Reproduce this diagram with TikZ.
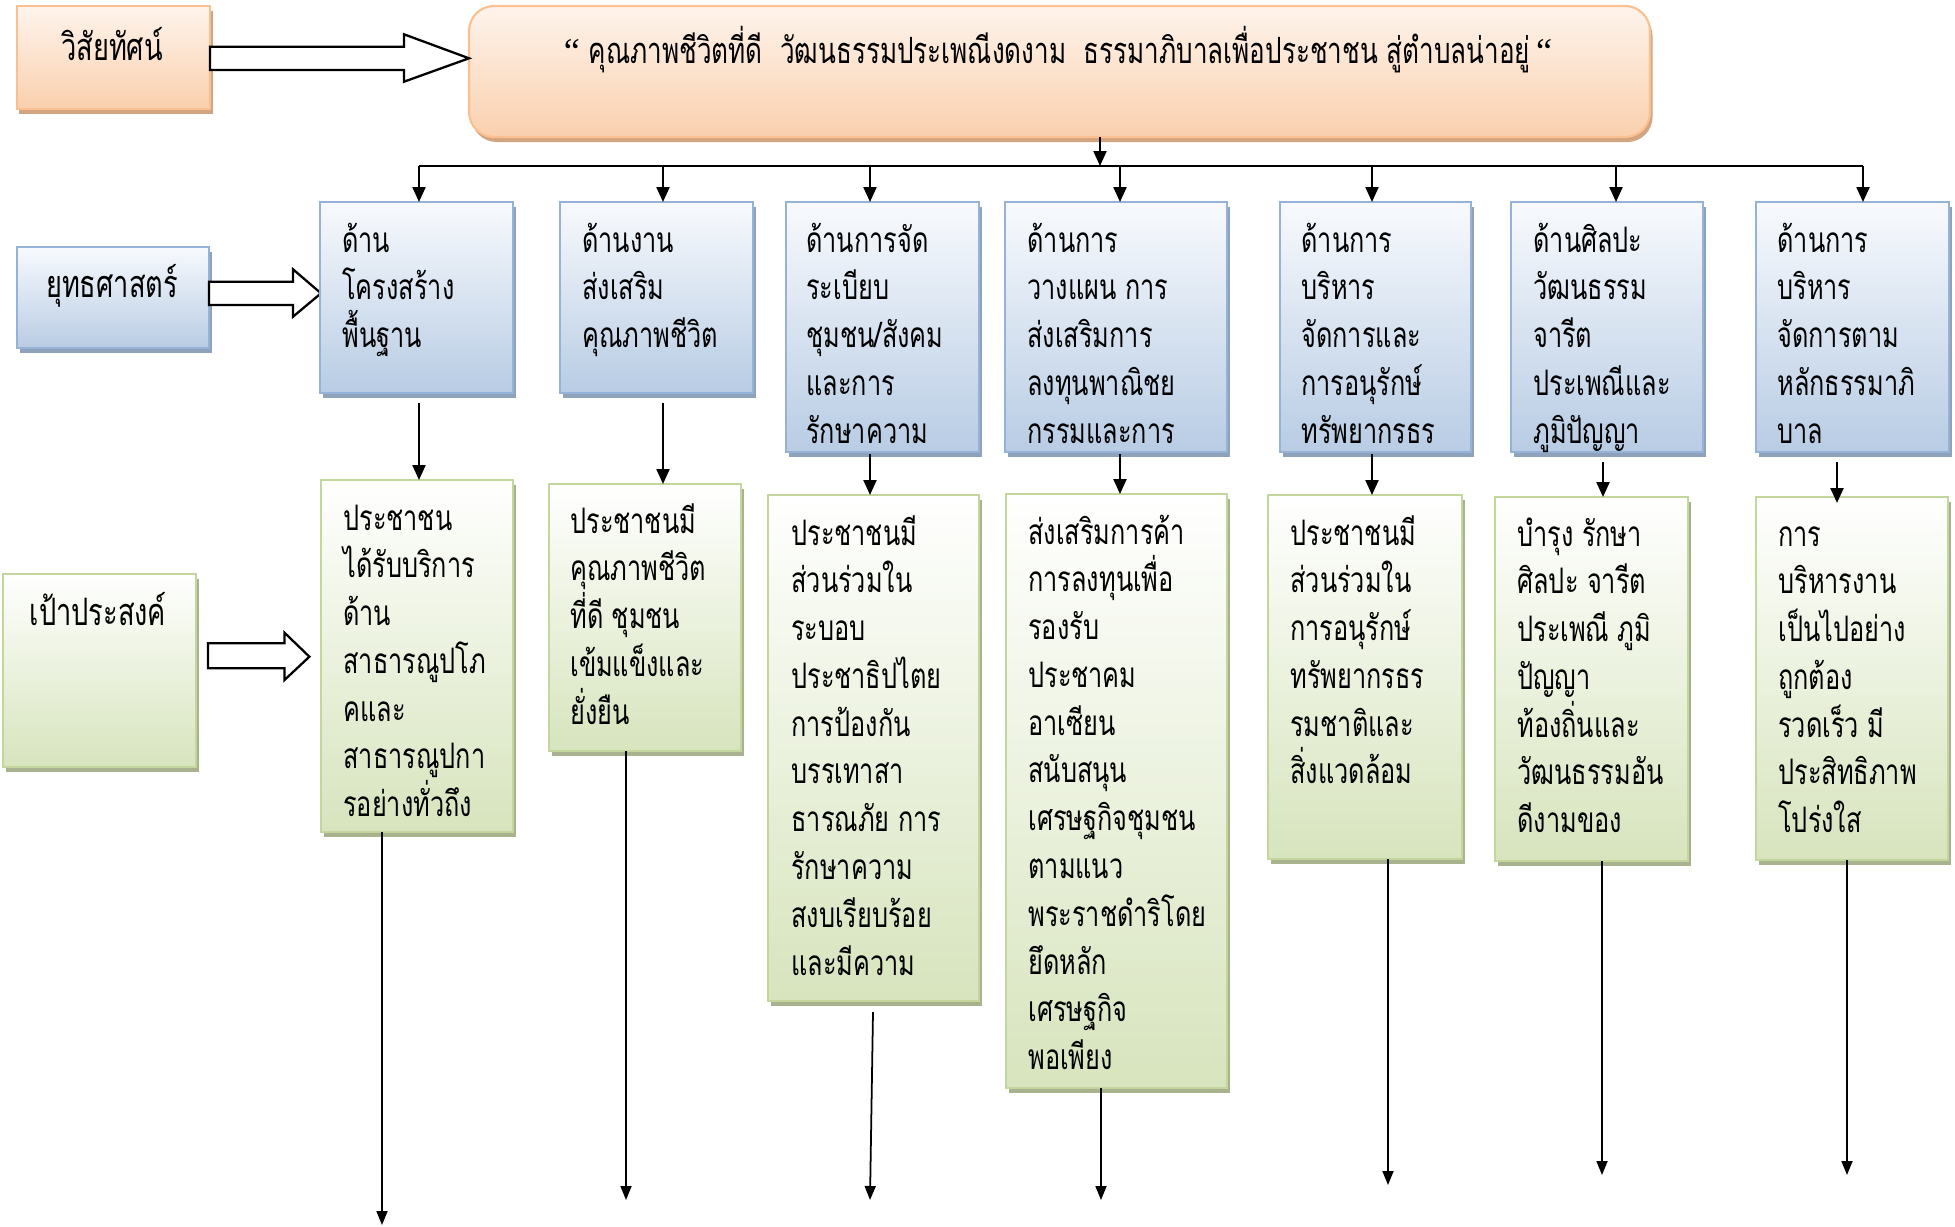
\documentclass[tikz,border=0pt]{standalone}
\usepackage{fontspec}
\newfontfamily\thai[Script=Thai,FakeStretch=0.72]{Loma}
\newfontfamily\qfont{Liberation Serif}
\usetikzlibrary{shadows,fit,arrows.meta,calc}
\definecolor{oborder}{HTML}{FAC08F}
\definecolor{otop}{HTML}{FEF4EC}
\definecolor{obot}{HTML}{FAD0AE}
\definecolor{oshadow}{HTML}{D2A47F}
\definecolor{bborder}{HTML}{95B3D7}
\definecolor{btop}{HTML}{F8FAFD}
\definecolor{bbot}{HTML}{B8CCE4}
\definecolor{bshadow}{HTML}{8FA2BC}
\definecolor{gborder}{HTML}{C3D69B}
\definecolor{gtop}{HTML}{FFFFFF}
\definecolor{gbot}{HTML}{D7E4BD}
\definecolor{gshadow}{HTML}{A8B28E}
\newcommand\tl[1]{\vtop{\lineskiplimit=-\maxdimen\lineskip=0pt\baselineskip=0.956cm\let\\\cr\halign{##\hfil\cr#1\crcr}}}
\newcommand\oq{{\qfont “}}
\begin{document}
\begin{tikzpicture}[x=0.02cm,y=-0.02cm,
  box/.style={inner sep=0pt, outer sep=0pt, line width=1.2pt},
  obox/.style={box, draw=oborder, top color=otop, bottom color=obot,
    drop shadow={shadow xshift=0.05cm, shadow yshift=-0.1cm, fill=oshadow, opacity=1}},
  bbox/.style={box, draw=bborder, top color=btop, bottom color=bbot,
    drop shadow={shadow xshift=0.06cm, shadow yshift=-0.1cm, fill=bshadow, opacity=1}},
  gbox/.style={box, draw=gborder, top color=gtop, bottom color=gbot,
    drop shadow={shadow xshift=0.06cm, shadow yshift=-0.1cm, fill=gshadow, opacity=1}},
  txt/.style={inner sep=0pt, anchor=base west, font=\thai\fontsize{20}{24}\selectfont},
  ltxt/.style={inner sep=0pt, anchor=base, font=\thai\fontsize{21.5}{24}\selectfont},
  mtxt/.style={inner sep=0pt, anchor=base, font=\thai\fontsize{20.6}{24}\selectfont},
  arr/.style={line width=1.3pt, -{Triangle[length=0.3cm, width=0.26cm]}},
  arrb/.style={line width=1pt, -{Triangle[length=0.28cm, width=0.22cm]}},
  busline/.style={line width=1.3pt},
  hollow/.style={draw=black, fill=white, line width=1.3pt, line join=miter}
]
\useasboundingbox (0,0) rectangle (1955,1227);

% label boxes
\node[obox, fit={(17,6) (210,109)}] (vis) {};
\node[obox, rounded corners=0.5cm, fit={(469,6) (1650,137)}] (mainb) {};
\node[bbox, fit={(17,247) (209,348)}] (strat) {};
\node[gbox, fit={(3,574) (196,767)}] (goal) {};

\node[ltxt] (vist) at (112,60) {วิสัยทัศน์};
\node[ltxt] (stratt) at (112,297) {ยุทธศาสตร์};
\node[ltxt] (goalt) at (98,625) {เป้าประสงค์};
\node[mtxt] (maint) at (1058,63) {\oq\ คุณภาพชีวิตที่ดี\ \ วัฒนธรรมประเพณีงดงาม\ \ ธรรมาภิบาลเพื่อประชาชน สู่ตำบลน่าอยู่\,\oq};

% hollow arrows
\draw[hollow] (210,46.7) -- (404,46.7) -- (404,34.3) -- (469,58.3) -- (404,81.7) -- (404,70) -- (210,70) -- cycle;
\draw[hollow] (209,281.7) -- (293,281.7) -- (293,269.3) -- (321,293.3) -- (293,316.7) -- (293,305) -- (209,305) -- cycle;
\draw[hollow] (208,643.3) -- (284.5,643.3) -- (284.5,632.7) -- (309.4,656.7) -- (284.5,680) -- (284.5,668.3) -- (208,668.3) -- cycle;

% strategy boxes
\node[bbox, fit={(320,202) (513,393)}] (s1) {};
\node[bbox, fit={(560,202) (753,393)}] (s2) {};
\node[bbox, fit={(786,202) (979,452)}] (s3) {};
\node[bbox, fit={(1005,202) (1227,452)}] (s4) {};
\node[bbox, fit={(1280,202) (1471,452)}] (s5) {};
\node[bbox, fit={(1511,202) (1703,452)}] (s6) {};
\node[bbox, fit={(1756,202) (1949,452)}] (s7) {};

\node[txt] (s1t) at (342,252) {\tl{ด้าน\\โครงสร้าง\\พื้นฐาน}};
\node[txt] (s2t) at (582,252) {\tl{ด้านงาน\\ส่งเสริม\\คุณภาพชีวิต}};
\node[txt] (s3t) at (806,252) {\tl{ด้านการจัด\\ระเบียบ\\ชุมชน/สังคม\\และการ\\รักษาความ}};
\node[txt] (s4t) at (1027,252) {\tl{ด้านการ\\วางแผน การ\\ส่งเสริมการ\\ลงทุนพาณิชย\\กรรมและการ}};
\node[txt] (s5t) at (1301,252) {\tl{ด้านการ\\บริหาร\\จัดการและ\\การอนุรักษ์\\ทรัพยากรธร}};
\node[txt] (s6t) at (1533,252) {\tl{ด้านศิลปะ\\วัฒนธรรม\\จารีต\\ประเพณีและ\\ภูมิปัญญา}};
\node[txt] (s7t) at (1777,252) {\tl{ด้านการ\\บริหาร\\จัดการตาม\\หลักธรรมาภิ\\บาล}};

% goal boxes
\node[gbox, fit={(321,480) (513,832)}] (g1) {};
\node[gbox, fit={(549,484) (741,751)}] (g2) {};
\node[gbox, fit={(768,495) (979,1001)}] (g3) {};
\node[gbox, fit={(1006,494) (1227,1088)}] (g4) {};
\node[gbox, fit={(1268,495) (1462,859)}] (g5) {};
\node[gbox, fit={(1495,497) (1688,861)}] (g6) {};
\node[gbox, fit={(1756,497) (1948,860)}] (g7) {};

\node[txt] (g1t) at (343,530) {\tl{ประชาชน\\ได้รับบริการ\\ด้าน\\สาธารณูปโภ\\คและ\\สาธารณูปกา\\รอย่างทั่วถึง}};
\node[txt] (g2t) at (570,533) {\tl{ประชาชนมี\\คุณภาพชีวิต\\ที่ดี ชุมชน\\เข้มแข็งและ\\ยั่งยืน}};
\node[txt] (g3t) at (791,545) {\tl{ประชาชนมี\\ส่วนร่วมใน\\ระบอบ\\ประชาธิปไตย\\การป้องกัน\\บรรเทาสา\\ธารณภัย การ\\รักษาความ\\สงบเรียบร้อย\\และมีความ}};
\node[txt] (g4t) at (1028,544) {\tl{ส่งเสริมการค้า\\การลงทุนเพื่อ\\รองรับ\\ประชาคม\\อาเซียน\\สนับสนุน\\เศรษฐกิจชุมชน\\ตามแนว\\พระราชดำริโดย\\ยึดหลัก\\เศรษฐกิจ\\พอเพียง}};
\node[txt] (g5t) at (1290,545) {\tl{ประชาชนมี\\ส่วนร่วมใน\\การอนุรักษ์\\ทรัพยากรธร\\รมชาติและ\\สิ่งแวดล้อม}};
\node[txt] (g6t) at (1517,546) {\tl{บำรุง รักษา\\ศิลปะ จารีต\\ประเพณี ภูมิ\\ปัญญา\\ท้องถิ่นและ\\วัฒนธรรมอัน\\ดีงามของ}};
\node[txt] (g7t) at (1778,546) {\tl{การ\\บริหารงาน\\เป็นไปอย่าง\\ถูกต้อง\\รวดเร็ว มี\\ประสิทธิภาพ\\โปร่งใส}};

% bus from vision
\coordinate (bus) at (1100,166);
\draw[arr] (mainb.south -| bus) -- (bus);
\coordinate (b1) at (419,166);
\coordinate (b2) at (663,166);
\coordinate (b3) at (870,166);
\coordinate (b4) at (1120,166);
\coordinate (b5) at (1372,166);
\coordinate (b6) at (1616,166);
\coordinate (b7) at (1863,166);
\draw[busline] (b1) -- (b7);
\foreach \i in {1,...,7} { \draw[arr] (b\i) -- (b\i |- s\i.north); }

% strategy -> goal
\coordinate (d1) at (419,403);
\coordinate (d2) at (663,403);
\coordinate (d3) at (870,454);
\coordinate (d4) at (1120,454);
\coordinate (d5) at (1372,454);
\coordinate (d6) at (1603,462);
\coordinate (d7) at (1837,462);
\foreach \i in {1,...,6} { \draw[arr] (d\i) -- (d\i |- g\i.north); }
\draw[arr] (d7) -- ($(d7 |- g7.north)+(0,6)$);

% goal -> down
\coordinate (e1) at (382,1225);
\coordinate (e2) at (626,1200);
\coordinate (e3s) at (873,1012);
\coordinate (e3) at (870,1200);
\coordinate (e4) at (1101,1200);
\coordinate (e5) at (1388,1185);
\coordinate (e6) at (1602,1175);
\coordinate (e7) at (1847,1175);
\draw[arrb] (e1 |- g1.south) -- (e1);
\draw[arrb] (e2 |- g2.south) -- (e2);
\draw[arrb] (e3s) -- (e3);
\draw[arrb] (e4 |- g4.south) -- (e4);
\draw[arrb] (e5 |- g5.south) -- (e5);
\draw[arrb] (e6 |- g6.south) -- (e6);
\draw[arrb] (e7 |- g7.south) -- (e7);
\end{tikzpicture}
\end{document}
